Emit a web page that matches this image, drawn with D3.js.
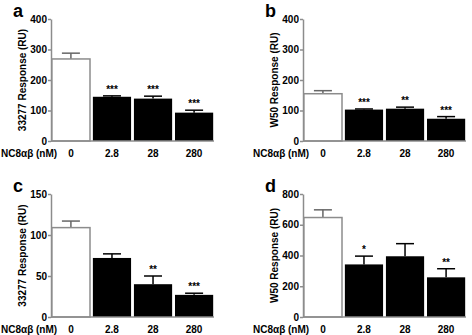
<!DOCTYPE html>
<html>
<head>
<meta charset="utf-8">
<script src="https://cdn.jsdelivr.net/npm/d3@7"></script>
<style>
  html, body { margin: 0; padding: 0; background: #fff; }
  svg { display: block; font-family: "Liberation Sans", Arial, sans-serif; }
</style>
</head>
<body>
<div id="chart"></div>
<script>
// NC8ab concentrations (nM)
const doses = ['0', '2.8', '28', '280'];

// panel a - 33277, top
const aMeans = [269, 145, 139, 93];
const aErrs = [19, 3, 8, 8];
const aStars = ['', '***', '***', '***'];
const aTicks = [0, 100, 200, 300, 400];

// panel b - W50, top
const bMeans = [155, 103, 106, 73];
const bErrs = [10, 2, 5, 7];
const bStars = ['', '***', '**', '***'];
const bTicks = [0, 100, 200, 300, 400];

// panel c - 33277, bottom
const cMeans = [109, 72, 40, 27];
const cErrs = [8, 5, 10, 2];
const cStars = ['', '', '**', '***'];
const cTicks = [0, 50, 100, 150];

// panel d - W50, bottom
const dMeans = [647, 342, 395, 258];
const dErrs = [50, 54, 82, 56];
const dStars = ['', '*', '', '**'];
const dTicks = [0, 200, 400, 600, 800];

const axisColor = '#8c8c8c';

const svg = d3.select('#chart')
  .append('svg')
  .attr('width', 472)
  .attr('height', 335);

const panels = [
  { letter: 'a', means: aMeans, errs: aErrs, stars: aStars, ticks: aTicks, yTitle: '33277 Response (RU)', left: 51, top: 19, bottom: 141 },
  { letter: 'b', means: bMeans, errs: bErrs, stars: bStars, ticks: bTicks, yTitle: 'W50 Response (RU)', left: 303, top: 19, bottom: 141 },
  { letter: 'c', means: cMeans, errs: cErrs, stars: cStars, ticks: cTicks, yTitle: '33277 Response (RU)', left: 51, top: 194, bottom: 317 },
  { letter: 'd', means: dMeans, errs: dErrs, stars: dStars, ticks: dTicks, yTitle: 'W50 Response (RU)', left: 303, top: 194, bottom: 317 }
];

panels.forEach(p => {
  const width = 163;
  const data = doses.map((d, i) => ({ dose: d, mean: p.means[i], err: p.errs[i], star: p.stars[i] }));

  const g = svg.append('g');

  const x = d3.scaleBand()
    .domain(doses)
    .range([p.left, p.left + width])
    .paddingInner(0.07)
    .paddingOuter(0.02);

  const y = d3.scaleLinear()
    .domain([0, d3.max(p.ticks)])
    .range([p.bottom, p.top]);

  // error bars (upper only), drawn under the bars
  const eb = g.selectAll('.err')
    .data(data)
    .join('g')
    .attr('class', 'err')
    .attr('stroke', (d, i) => i === 0 ? '#666' : '#000')
    .attr('stroke-width', 1.5);

  eb.append('line')
    .attr('x1', d => x(d.dose) + x.bandwidth() / 2)
    .attr('x2', d => x(d.dose) + x.bandwidth() / 2)
    .attr('y1', d => y(d.mean))
    .attr('y2', d => y(d.mean + d.err));

  eb.append('line')
    .attr('x1', d => x(d.dose) + x.bandwidth() / 2 - 9)
    .attr('x2', d => x(d.dose) + x.bandwidth() / 2 + 9)
    .attr('y1', d => y(d.mean + d.err))
    .attr('y2', d => y(d.mean + d.err));

  // bars
  g.selectAll('.bar')
    .data(data)
    .join('rect')
    .attr('class', 'bar')
    .attr('x', d => x(d.dose))
    .attr('y', d => y(d.mean))
    .attr('width', x.bandwidth())
    .attr('height', d => y(0) - y(d.mean))
    .attr('fill', (d, i) => i === 0 ? '#fff' : '#000')
    .attr('stroke', (d, i) => i === 0 ? axisColor : 'none')
    .attr('stroke-width', 1.5);

  // significance stars
  g.selectAll('.star')
    .data(data)
    .join('text')
    .attr('class', 'star')
    .attr('x', d => x(d.dose) + x.bandwidth() / 2)
    .attr('y', d => y(d.mean + d.err) - 3)
    .attr('text-anchor', 'middle')
    .style('font-size', '10px')
    .style('font-weight', 'bold')
    .text(d => d.star);

  // y axis
  const yAxis = g.append('g')
    .attr('transform', `translate(${p.left},0)`)
    .call(d3.axisLeft(y).tickValues(p.ticks).tickSize(3).tickPadding(1).tickSizeOuter(0));
  yAxis.select('.domain').attr('stroke', axisColor).attr('stroke-width', 1.5);
  yAxis.selectAll('.tick line').attr('stroke', axisColor).attr('stroke-width', 1.5);
  yAxis.selectAll('.tick text')
    .attr('fill', '#000')
    .style('font-size', '10px')
    .style('font-weight', 'bold')
    .style('font-family', '"Liberation Sans", Arial, sans-serif');

  // x axis baseline
  g.append('line')
    .attr('x1', p.left)
    .attr('x2', p.left + width)
    .attr('y1', y(0))
    .attr('y2', y(0))
    .attr('stroke', axisColor)
    .attr('stroke-width', 1.5);

  // category labels
  g.selectAll('.cat')
    .data(doses)
    .join('text')
    .attr('class', 'cat')
    .attr('x', d => x(d) + x.bandwidth() / 2)
    .attr('y', y(0) + 16)
    .attr('text-anchor', 'middle')
    .style('font-size', '10px')
    .style('font-weight', 'bold')
    .text(d => d);

  g.append('text')
    .attr('x', p.left - 50)
    .attr('y', y(0) + 16)
    .style('font-size', '10px')
    .style('font-weight', 'bold')
    .text('NC8\u03b1\u03b2 (nM)');

  // y axis title
  g.append('text')
    .attr('transform', `translate(${p.left - 25},${(p.top + p.bottom) / 2}) rotate(-90)`)
    .attr('text-anchor', 'middle')
    .style('font-size', '10px')
    .style('font-weight', 'bold')
    .text(p.yTitle);

  // panel letter
  g.append('text')
    .attr('x', p.left - 38)
    .attr('y', p.top - 2)
    .style('font-size', '18px')
    .style('font-weight', 'bold')
    .text(p.letter);
});
</script>
</body>
</html>
